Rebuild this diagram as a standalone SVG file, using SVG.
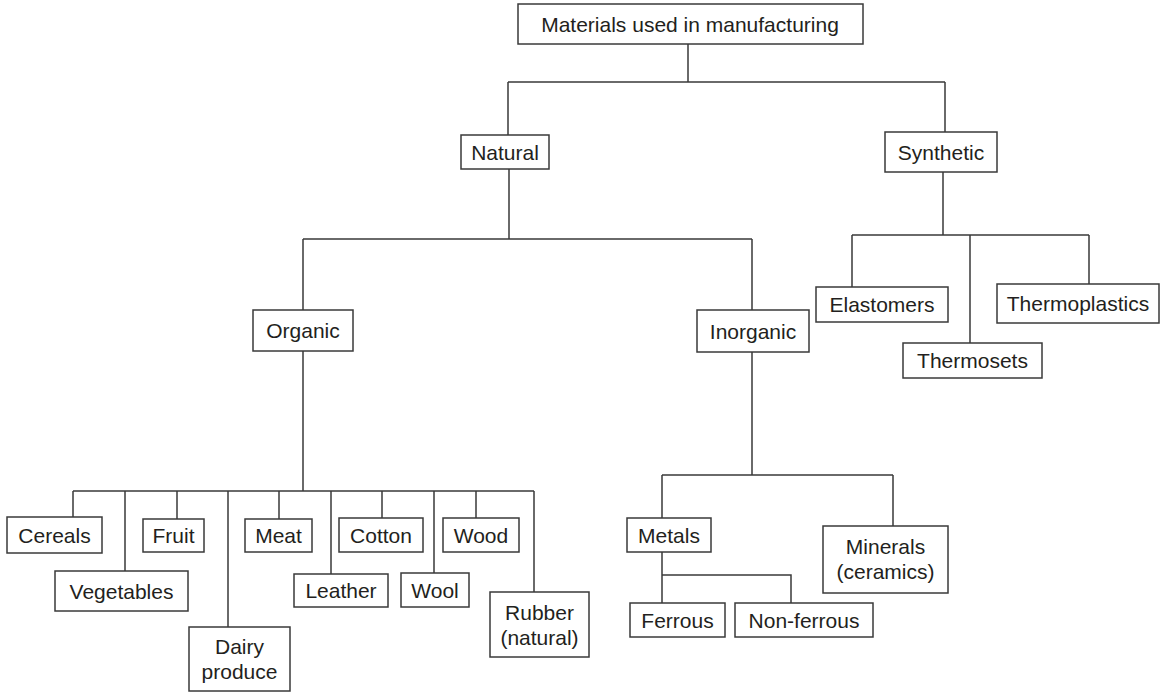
<svg xmlns="http://www.w3.org/2000/svg" width="1166" height="692" viewBox="0 0 1166 692">
<style>
.b{fill:#fff;stroke:#3a3a3a;stroke-width:1.5}
.c{fill:none;stroke:#3a3a3a;stroke-width:1.5}
text{font-family:"Liberation Sans",Arial,sans-serif;font-size:21px;fill:#231f20;text-anchor:middle}
</style>
<rect width="1166" height="692" fill="#fff"/>
<g id="connectors" class="c">
<path d="M688,44V82M508,82H945M508,82V135M945,82V132"/>
<path d="M509,169V239M303,239H752M303,239V310M752,239V310"/>
<path d="M943,172V235M852,235H1089M852,235V287M970,235V343M1089,235V284"/>
<path d="M303,351V491M73,491H534M73,491V517M125,491V571M177,491V519M228,491V627M279,491V519M331,491V574M382,491V518M434,491V573M476,491V518M534,491V592"/>
<path d="M752,352V475M662,475H893M662,475V518M893,475V526"/>
<path d="M662,552V603M662,575H791V603"/>
</g>
<g id="n-root"><rect class="b" x="518" y="4" width="345" height="40"/><text x="690" y="31.5">Materials used in manufacturing</text></g>
<g id="n-natural"><rect class="b" x="461" y="135" width="88" height="34"/><text x="505" y="159.5">Natural</text></g>
<g id="n-synthetic"><rect class="b" x="885" y="132" width="112" height="40"/><text x="941" y="159.5">Synthetic</text></g>
<g id="n-organic"><rect class="b" x="253" y="310" width="100" height="41"/><text x="303" y="338">Organic</text></g>
<g id="n-inorganic"><rect class="b" x="697" y="310" width="112" height="42"/><text x="753" y="338.5">Inorganic</text></g>
<g id="n-elastomers"><rect class="b" x="816" y="287" width="132" height="35"/><text x="882" y="312">Elastomers</text></g>
<g id="n-thermosets"><rect class="b" x="903" y="343" width="139" height="35"/><text x="972.5" y="368">Thermosets</text></g>
<g id="n-thermoplastics"><rect class="b" x="997" y="284" width="162" height="39"/><text x="1078" y="311">Thermoplastics</text></g>
<g id="n-cereals"><rect class="b" x="7" y="517" width="95" height="36"/><text x="54.5" y="542.5">Cereals</text></g>
<g id="n-vegetables"><rect class="b" x="55" y="571" width="133" height="40"/><text x="121.5" y="598.5">Vegetables</text></g>
<g id="n-fruit"><rect class="b" x="143" y="519" width="61" height="33"/><text x="173.5" y="543">Fruit</text></g>
<g id="n-dairy"><rect class="b" x="189" y="627" width="101" height="64"/><text x="239.5" y="654">Dairy</text><text x="239.5" y="679">produce</text></g>
<g id="n-meat"><rect class="b" x="245" y="519" width="67" height="33"/><text x="278.5" y="543">Meat</text></g>
<g id="n-leather"><rect class="b" x="294" y="574" width="94" height="33"/><text x="341" y="598">Leather</text></g>
<g id="n-cotton"><rect class="b" x="339" y="518" width="84" height="34"/><text x="381" y="542.5">Cotton</text></g>
<g id="n-wool"><rect class="b" x="401" y="573" width="68" height="34"/><text x="435" y="597.5">Wool</text></g>
<g id="n-wood"><rect class="b" x="443" y="518" width="76" height="34"/><text x="481" y="542.5">Wood</text></g>
<g id="n-rubber"><rect class="b" x="490" y="592" width="99" height="65"/><text x="539.5" y="619.5">Rubber</text><text x="539.5" y="644.5">(natural)</text></g>
<g id="n-metals"><rect class="b" x="627" y="518" width="84" height="34"/><text x="669" y="542.5">Metals</text></g>
<g id="n-ferrous"><rect class="b" x="630" y="603" width="95" height="34"/><text x="677.5" y="627.5">Ferrous</text></g>
<g id="n-nonferrous"><rect class="b" x="735" y="603" width="138" height="34"/><text x="804" y="627.5">Non-ferrous</text></g>
<g id="n-minerals"><rect class="b" x="823" y="526" width="125" height="67"/><text x="885.5" y="554">Minerals</text><text x="885.5" y="579">(ceramics)</text></g>
</svg>
